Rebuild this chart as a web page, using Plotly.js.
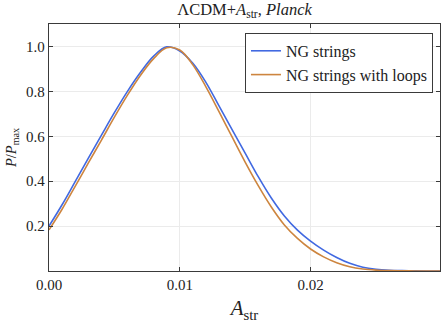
<!DOCTYPE html>
<html>
<head>
<meta charset="utf-8">
<script src="https://cdn.plot.ly/plotly-3.0.1.min.js"></script>
<style>
  html, body { margin: 0; padding: 0; background: #fff; }
  #plot { width: 448px; height: 326px; }
</style>
</head>
<body>
<div id="plot"></div>
<script>
// A_str grid, values every 0.001
const aStr = [0.000, 0.001, 0.002, 0.003, 0.004, 0.005, 0.006, 0.007, 0.008, 0.009,
              0.010, 0.011, 0.012, 0.013, 0.014, 0.015, 0.016, 0.017, 0.018, 0.019,
              0.020, 0.021, 0.022, 0.023, 0.024, 0.025, 0.026, 0.027, 0.028, 0.029, 0.030];

const ngStrings = [0.200, 0.295, 0.398, 0.502, 0.604, 0.705, 0.800, 0.885, 0.957, 0.998,
                   0.980, 0.925, 0.840, 0.735, 0.630, 0.525, 0.420, 0.325, 0.245, 0.182,
                   0.133, 0.093, 0.060, 0.034, 0.017, 0.008, 0.0035, 0.0015, 0.0006, 0.0002, 0.0001];

const ngLoops = [0.183, 0.275, 0.377, 0.480, 0.582, 0.685, 0.783, 0.872, 0.946, 0.994,
                 0.984, 0.918, 0.820, 0.710, 0.597, 0.485, 0.380, 0.285, 0.205, 0.145,
                 0.098, 0.063, 0.037, 0.019, 0.009, 0.004, 0.0017, 0.0007, 0.0003, 0.0001, 0.0];

const xTicks = [0, 0.01, 0.02];
const yTicks = [0.2, 0.4, 0.6, 0.8, 1.0];

const serif = 'Liberation Serif, DejaVu Serif, serif';

const data = [
  {
    x: aStr, y: ngStrings, type: 'scatter', mode: 'lines',
    name: 'NG strings',
    line: { color: 'royalblue', width: 1.6, shape: 'spline', smoothing: 1 }
  },
  {
    x: aStr, y: ngLoops, type: 'scatter', mode: 'lines',
    name: 'NG strings with loops',
    line: { color: 'peru', width: 1.6, shape: 'spline', smoothing: 1 }
  }
];

const axisCommon = {
  showline: true, mirror: 'allticks', linecolor: '#3a3a3a', linewidth: 1.2,
  ticks: 'inside', ticklen: 4, tickcolor: '#3a3a3a',
  showgrid: true, gridcolor: '#ebebeb', gridwidth: 1,
  zeroline: false,
  tickfont: { family: serif, size: 15, color: '#222' }
};

const layout = {
  width: 448, height: 326,
  margin: { l: 49, r: 8, t: 24, b: 55 },
  paper_bgcolor: '#fff', plot_bgcolor: '#fff',
  font: { family: serif, color: '#222' },
  title: {
    text: 'ΛCDM+<i>A</i><sub>str</sub>, <i>Planck</i>',
    font: { family: serif, size: 16.5, color: '#222' },
    x: 0.5, xref: 'paper', xanchor: 'center', y: 0.99, yanchor: 'top'
  },
  xaxis: Object.assign({}, axisCommon, {
    range: [0, 0.0299],
    tickvals: xTicks, tickformat: '.2f',
    title: { text: '<i>A</i><sub>str</sub>', font: { family: serif, size: 21, color: '#222' }, standoff: 8 }
  }),
  yaxis: Object.assign({}, axisCommon, {
    range: [0, 1.1],
    tickvals: yTicks, tickformat: '.1f',
    title: { text: '<i>P</i>/<i>P</i><sub>max</sub>', font: { family: serif, size: 14.5, color: '#222' }, standoff: 6 }
  }),
  showlegend: true,
  legend: {
    x: 0.982, xanchor: 'right', y: 0.964, yanchor: 'top',
    bgcolor: '#fff', bordercolor: '#3a3a3a', borderwidth: 1,
    font: { family: serif, size: 16, color: '#222' },
    tracegroupgap: 0
  }
};

Plotly.newPlot('plot', data, layout, { displayModeBar: false, staticPlot: true });
</script>
</body>
</html>
